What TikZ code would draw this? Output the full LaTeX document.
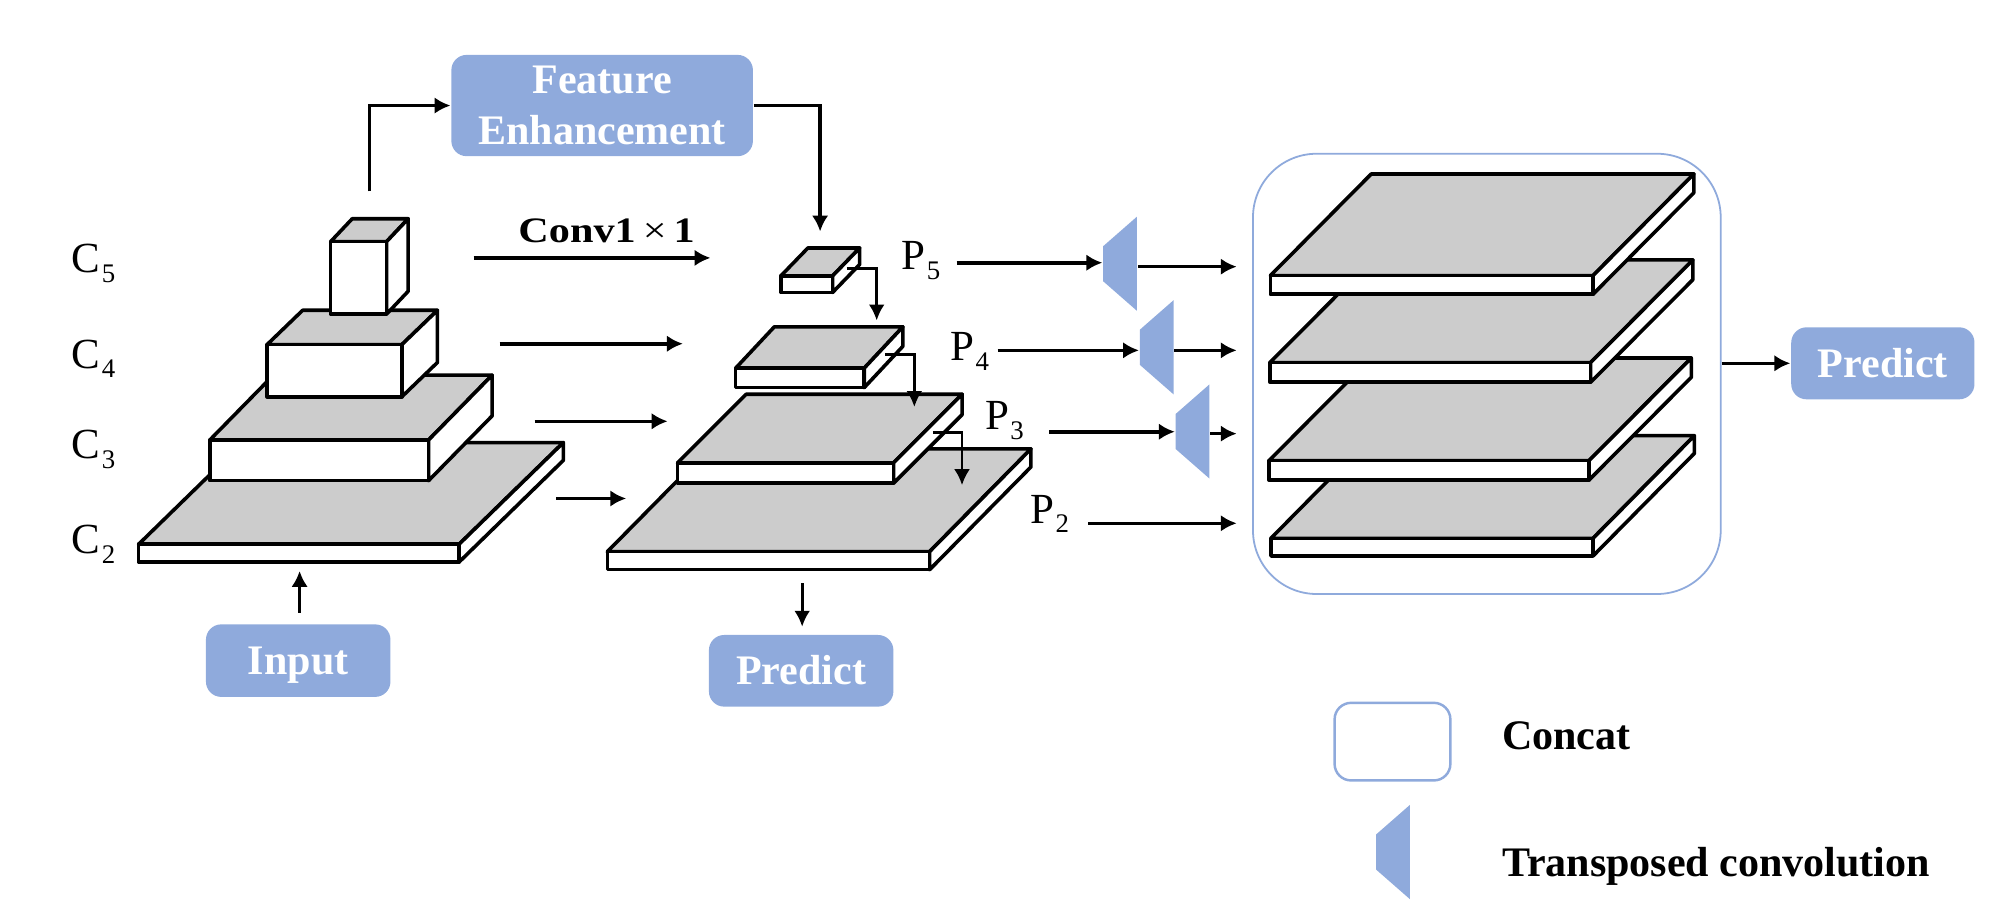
\documentclass[tikz,border=0pt]{standalone}
\usepackage{fontspec}
\setmainfont{Liberation Serif}
\usepackage{xcolor}
\usetikzlibrary{arrows.meta,shapes.geometric}
\definecolor{boxblue}{HTML}{8FAADC}
\definecolor{topgray}{HTML}{CCCCCC}
\tikzset{
	bluebox/.style={rounded corners=1.2mm,fill=boxblue,text=white,font=\fontsize{9.4}{11.5}\selectfont\bfseries,align=center,inner sep=0pt},
	oneline/.style={text height=6.2pt,text depth=0pt},
	concatbox/.style={draw=boxblue,fill=white,inner sep=0pt},
	upconv/.style={trapezium,trapezium stretches=true,shape border rotate=90,trapezium left angle=50,trapezium right angle=50,fill=boxblue,inner sep=0.2pt,minimum width=7.4mm,minimum height=2.65mm},
	featlab/.style={anchor=base west,inner sep=0pt,font=\fontsize{9.6}{12}\selectfont},
	boldlab/.style={anchor=base west,inner sep=0pt,font=\fontsize{9.4}{12}\selectfont\bfseries},
	arw/.style={-{Latex[length=1.25mm,width=1.3mm]},line width=0.8pt},
	thinarw/.style={-{Latex[length=1.25mm,width=1.25mm]},line width=0.6pt},
	slabline/.style={line width=0.8pt,line join=round},
}
\newcommand{\feat}[2]{#1\kern0.3pt\raisebox{-2.1pt}{\fontsize{6}{7}\selectfont #2}}
% front left, front top, front right, front bottom, back right, back top
\newcommand{\slab}[6]{
	\draw [slabline,fill=topgray] (#1,#2) -- ({#5-#3+#1},#6) -- (#5,#6) -- (#3,#2) -- cycle;
	\draw [slabline,fill=white] (#3,#2) -- (#5,#6) -- (#5,{#6+#4-#2}) -- (#3,#4) -- cycle;
	\draw [slabline,fill=white] (#1,#2) rectangle (#3,#4);
}
\begin{document}
\begin{tikzpicture}[x=0.01cm,y=-0.01cm]
	\useasboundingbox (0,0) rectangle (1568,720.3);
	% backbone
	\slab{109}{428}{361}{442}{443}{348}
	\slab{165}{346}{337}{378}{387}{295}
	\slab{210}{271}{316}{312}{344}{244}
	\slab{260}{190}{304}{247}{321}{172}
	\node [featlab] (c5) at (55.9,214.6) {\feat{C}{5}};
	\node [featlab] (c4) at (55.9,289.6) {\feat{C}{4}};
	\node [featlab] (c3) at (55.9,360.7) {\feat{C}{3}};
	\node [featlab] (c2) at (55.9,435.4) {\feat{C}{2}};
	% pyramid
	\slab{477.6}{433.8}{731}{448}{810.7}{353}
	\slab{532.8}{364}{702.6}{380}{756.6}{310}
	\slab{578.5}{289.5}{679.6}{304.8}{710}{257}
	\slab{614}{217}{654.7}{230}{676}{195}
	\node [featlab] (p5) at (708.3,212.3) {\feat{P}{5}};
	\node [featlab] (p4) at (746.6,283.6) {\feat{P}{4}};
	\node [featlab] (p3) at (773.9,338) {\feat{P}{3}};
	\node [featlab] (p2) at (809.6,411.5) {\feat{P}{2}};
	% concat stack
	\node [concatbox,rounded corners=5mm,minimum width=36.76mm,minimum height=34.6mm] (concat) at (1169.2,294) {};
	\slab{999.4}{423.3}{1252.7}{437.2}{1332.4}{342.6}
	\slab{997.9}{362.2}{1249.6}{377.4}{1330}{281.5}
	\slab{998.6}{285.1}{1250.8}{300.6}{1331.2}{204.4}
	\slab{999}{216.7}{1252.7}{231.4}{1332}{136.8}
	% boxes
	\node [bluebox,minimum width=23.7mm,minimum height=7.96mm] (enhance) at (473.5,83) {Feature\\Enhancement};
	\node [bluebox,oneline,minimum width=14.5mm,minimum height=5.7mm] (input) at (234.5,519.5) {Input};
	\node [bluebox,oneline,minimum width=14.5mm,minimum height=5.63mm] (predictp) at (630,527.5) {Predict};
	\node [bluebox,oneline,minimum width=14.4mm,minimum height=5.66mm] (predictc) at (1480.6,285.7) {Predict};
	\node [upconv] (up5) at (880.8,207.4) {};
	\node [upconv] (up4) at (909.6,273.1) {};
	\node [upconv] (up3) at (937.8,339.3) {};
	% arrows
	\coordinate (c5top) at (290.6,150.4);
	\coordinate (p5top) at (644.9,182);
	\draw [arw] (c5top) |- (enhance.west);
	\draw [arw] (enhance.east) -| (p5top);
	\coordinate (in5) at (372.4,202.8);
	\coordinate (out5) at (558.7,202.8);
	\coordinate (in4) at (392.9,270.3);
	\coordinate (out4) at (537,270.3);
	\coordinate (in3) at (420.5,331.3);
	\coordinate (out3) at (525,331.3);
	\coordinate (in2) at (437.6,392);
	\coordinate (out2) at (492.4,392);
	\draw [arw] (in5) -- (out5);
	\draw [arw] (in4) -- (out4);
	\draw [arw] (in3) -- (out3);
	\draw [arw] (in2) -- (out2);
	\node [boldlab] (conv) at (407,190.6) {\scalebox{1.18}[1]{\fontsize{8}{9}\selectfont Conv1\,{\normalfont\fontsize{8}{9}\selectfont ×}\,1}};
	\coordinate (inputtop) at (235.6,482);
	\coordinate (c2bot) at (235.6,449);
	\draw [arw] (inputtop) -- (c2bot);
	% upsampling between levels
	\coordinate (a5) at (666,211);
	\coordinate (b5) at (689.4,252);
	\coordinate (a4) at (696,279);
	\coordinate (b4) at (719,320);
	\coordinate (a3) at (733.5,340);
	\coordinate (b3) at (756.5,381.5);
	\draw [thinarw] (a5) -| (b5);
	\draw [thinarw] (a4) -| (b4);
	\draw [thinarw] (a3) -| (b3);
	\coordinate (p2bot) at (630.8,458.6);
	\coordinate (predtop) at (630.8,492.8);
	\draw [thinarw] (p2bot) -- (predtop);
	% to concat
	\coordinate (s5) at (752.3,206.6);
	\coordinate (s4) at (784.4,275.5);
	\coordinate (s3) at (825,339.5);
	\coordinate (s2) at (855.7,411.5);
	\coordinate (e5) at (972.5,209.7);
	\coordinate (e4) at (972.5,275.5);
	\coordinate (e3) at (972.5,341);
	\coordinate (e2) at (972.5,411.5);
	\draw [arw] (s5) -- (s5 -| up5.west);
	\draw [arw] (s4) -- (s4 -| up4.west);
	\draw [arw] (s3) -- (s3 -| up3.west);
	\draw [arw] (e5 -| up5.east) -- (e5);
	\draw [arw] (e4 -| up4.east) -- (e4);
	\draw [arw] (e3 -| up3.east) -- (e3);
	\draw [arw] (s2) -- (e2);
	\draw [arw] (predictc.west -| concat.east) -- (predictc.west);
	% legend
	\node [concatbox,line width=0.55pt,rounded corners=1.3mm,minimum width=9.1mm,minimum height=6.1mm] (legbox) at (1095,583.2) {};
	\node [upconv] (legup) at (1095.4,670) {};
	\node [boldlab] (legconcat) at (1180.6,589.7) {Concat};
	\node [boldlab] (legtrans) at (1180.6,689.3) {Transposed convolution};
\end{tikzpicture}
\end{document}
